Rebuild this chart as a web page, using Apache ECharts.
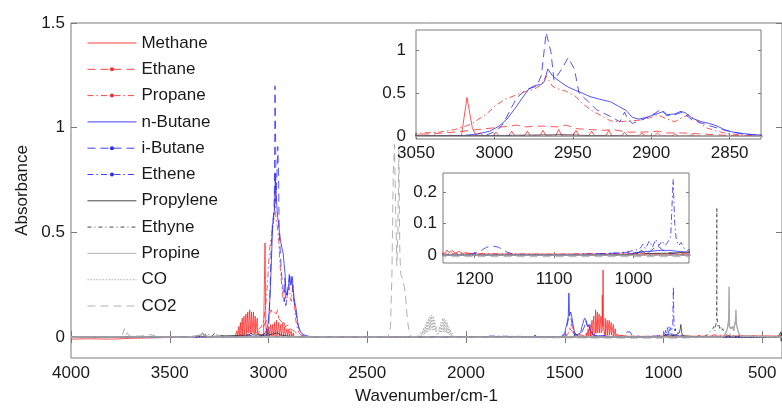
<!DOCTYPE html>
<html><head><meta charset="utf-8">
<script src="https://cdn.jsdelivr.net/npm/echarts@6/dist/echarts.min.js"></script>
<style>html,body{margin:0;padding:0;background:#fff}#c{width:782px;height:410px}</style>
</head><body><div id="c"></div>
<script>
// ---------- data: [wavenumber (cm-1), absorbance] ----------
const seriesNames = ['Methane','Ethane','Propane','n-Butane','i-Butane','Ethene','Propylene','Ethyne','Propine','CO','CO2'];

const methane = [
 [4000,-0.01],[3900,-0.008],[3800,-0.01],[3700,-0.006],[3600,-0.004],[3400,0],[3200,0],[3170,0.002],
 [3162,0],[3160,0.03],[3158,0],[3153,0],[3151,0.05],[3149,0],[3144,0.005],[3142,0.07],[3140,0.005],
 [3135,0.01],[3133,0.09],[3131,0.01],[3126,0.01],[3124,0.1],[3122,0.01],[3116,0.015],[3114,0.11],[3112,0.015],
 [3107,0.02],[3105,0.12],[3103,0.02],[3097,0.02],[3095,0.13],[3093,0.02],[3088,0.02],[3086,0.12],[3084,0.02],
 [3078,0.02],[3076,0.12],[3074,0.02],[3069,0.02],[3067,0.1],[3065,0.02],[3059,0.015],[3057,0.09],[3055,0.01],
 [3050,0.005],[3048,0.02],[3046,0.005],[3040,0.005],[3038,0.015],[3036,0.005],[3030,0.005],[3028,0.015],[3025,0.005],
 [3021,0.01],[3017.5,0.45],[3014,0.09],[3012,0.02],[3011,0.01],[3009,0.04],[3007,0.005],
 [3001,0.005],[2999,0.05],[2997,0.005],[2991,0.005],[2989,0.06],[2987,0.005],[2981,0.005],[2979,0.06],[2977,0.005],
 [2971,0.005],[2969,0.07],[2967,0.005],[2961,0.005],[2959,0.08],[2957,0.005],[2950,0.005],[2948,0.07],[2946,0.005],
 [2940,0.005],[2938,0.06],[2936,0.005],[2929,0.005],[2927,0.07],[2925,0.005],[2919,0.005],[2917,0.05],[2915,0.005],
 [2908,0.005],[2906,0.04],[2904,0.005],[2898,0.005],[2896,0.04],[2894,0.005],[2887,0.003],[2885,0.03],[2883,0.003],
 [2876,0.002],[2874,0.02],[2872,0.002],[2860,0],[1420,0],
 [1393,0],[1391,0.02],[1389,0],[1383,0.005],[1381,0.04],[1379,0.005],[1373,0.005],[1371,0.06],[1369,0.005],
 [1364,0.01],[1362,0.08],[1360,0.01],[1355,0.01],[1353,0.1],[1351,0.01],[1346,0.02],[1344,0.13],[1342,0.02],
 [1337,0.02],[1335,0.12],[1333,0.02],[1328,0.02],[1326,0.11],[1324,0.02],[1319,0.02],[1317,0.1],[1315,0.02],
 [1311,0.03],[1310,0.2],[1308,0.05],[1306,0.32],[1304,0.04],
 [1297,0.01],[1295,0.09],[1293,0.01],[1287,0.01],[1285,0.08],[1283,0.01],[1277,0.01],[1275,0.08],[1273,0.01],
 [1267,0.01],[1265,0.07],[1263,0.01],[1256,0.005],[1254,0.06],[1252,0.005],[1246,0.005],[1244,0.04],[1242,0.005],
 [1237,0.006],[1235,0.016],[1232,0.008],[1228,0.014],[1224,0.006],[1220,0.012],[1215,0.005],[1212,0.008],[1205,0.004],
 [1180,0.003],[1100,0.003],[1000,0.003],[800,0.004],[600,0.005],[400,0.005]
];

const ethane = [
 [4000,0],[3200,0],[3100,0.01],[3060,0.02],[3050,0.025],[3040,0.03],[3025,0.05],[3010,0.08],[3000,0.1],
 [2990,0.12],[2986,0.13],[2980,0.11],[2970,0.12],[2960,0.11],[2954,0.13],[2948,0.09],[2940,0.08],[2930,0.07],
 [2925,0.08],[2915,0.05],[2905,0.05],[2896,0.06],[2890,0.04],[2880,0.04],[2870,0.03],[2860,0.02],[2850,0.01],
 [2830,0.005],[2800,0],[1500,0],[1490,0.01],[1472,0.04],[1465,0.03],[1450,0.01],[1390,0],[1380,0.01],[1370,0],
 [830,0],[821,0.01],[810,0],[400,0]
];

const propane = [
 [4000,0],[3200,0],[3100,0.01],[3060,0.03],[3050,0.035],[3035,0.05],[3025,0.08],[3015,0.14],[3005,0.26],
 [2999,0.36],[2993,0.43],[2986,0.48],[2980,0.52],[2975,0.54],[2970,0.6],[2967,0.7],[2963,0.58],[2958,0.54],
 [2954,0.52],[2948,0.46],[2944,0.38],[2938,0.3],[2932,0.24],[2926,0.18],[2920,0.17],[2913,0.18],[2906,0.19],
 [2900,0.22],[2896,0.25],[2890,0.2],[2885,0.17],[2880,0.22],[2876,0.25],[2870,0.17],[2865,0.1],[2858,0.06],
 [2852,0.035],[2845,0.02],[2835,0.01],[2820,0.005],[2800,0],[1500,0],[1480,0.02],[1470,0.06],[1462,0.05],
 [1450,0.02],[1400,0.005],[1385,0.02],[1375,0.015],[1360,0.005],[1240,0.006],[1200,0.005],[1100,0.003],
 [1050,0.005],[760,0.003],[748,0.01],[740,0.003],[400,0.002]
];

const nButane = [
 [4000,0],[3100,0],[3050,0],[3030,0.005],[3020,0.01],[3010,0.03],[3003,0.06],[2997,0.12],[2992,0.2],
 [2987,0.32],[2982,0.45],[2978,0.55],[2974,0.59],[2970,0.6],[2968,0.64],[2966,0.78],[2963,0.7],[2958,0.63],
 [2953,0.57],[2948,0.53],[2944,0.5],[2939,0.46],[2933,0.43],[2926,0.4],[2921,0.35],[2916,0.3],[2912,0.22],
 [2908,0.2],[2903,0.22],[2900,0.24],[2895,0.27],[2892,0.29],[2890,0.25],[2885,0.26],[2881,0.29],[2878,0.27],
 [2874,0.21],[2868,0.17],[2863,0.15],[2858,0.12],[2853,0.075],[2848,0.05],[2842,0.035],[2835,0.02],
 [2829,0.016],[2815,0.008],[2800,0.005],[2780,0],[1520,0],[1500,0.02],[1490,0.06],[1482,0.1],[1479,0.21],
 [1476,0.1],[1470,0.12],[1465,0.1],[1458,0.06],[1450,0.02],[1440,0.01],[1420,0.02],[1410,0.06],[1400,0.09],
 [1392,0.08],[1385,0.05],[1378,0.06],[1370,0.03],[1355,0.01],[1330,0.005],[1300,0.008],[1280,0],[1010,0],
 [1000,0.005],[990,0.01],[980,0.012],[965,0.015],[955,0.015],[945,0.012],[935,0.01],[920,0.005],[900,0],[400,0]
];

const iButane = [
 [4000,0],[3100,0],[3020,0],[3010,0.005],[3005,0.017],[2999,0.06],[2995,0.13],[2990,0.3],[2986,0.44],
 [2980,0.54],[2973,0.58],[2970,0.71],[2967,1.2],[2964,0.98],[2962,0.65],[2957,0.78],[2953,0.91],[2949,0.78],
 [2946,0.5],[2940,0.4],[2935,0.31],[2926,0.23],[2920,0.17],[2917,0.28],[2915,0.2],[2912,0.15],[2905,0.2],
 [2900,0.24],[2894,0.31],[2890,0.24],[2885,0.25],[2880,0.28],[2874,0.19],[2864,0.13],[2853,0.07],[2843,0.03],
 [2830,0.01],[2810,0],[1520,0],[1500,0.01],[1490,0.05],[1480,0.09],[1472,0.1],[1466,0.08],[1460,0.04],
 [1450,0.01],[1420,0.01],[1400,0.05],[1395,0.08],[1388,0.06],[1380,0.06],[1372,0.04],[1365,0.02],[1350,0.005],
 [1210,0],[1195,0.01],[1185,0.025],[1177,0.029],[1170,0.025],[1160,0.01],[1150,0.002],[1100,0],
 [980,0.01],[970,0.03],[960,0.01],[940,0],[400,0]
];

const ethene = [
 [4000,0],[3200,0],[3130,0.005],[3105,0.01],[3080,0.005],[3000,0.005],[2990,0.01],[2980,0.003],[2900,0],
 [1900,0],[1889,0.005],[1880,0],[1460,0],[1443,0.01],[1430,0],[1060,0],[1040,0.003],[1025,0.006],[1015,0.008],
 [1005,0.012],[998,0.015],[992,0.02],[988,0.035],[985,0.02],[980,0.045],[976,0.025],[972,0.05],[968,0.03],
 [964,0.045],[960,0.03],[957,0.04],[953,0.06],[950,0.24],[948,0.1],[946,0.05],[943,0.03],[940,0.04],[936,0.02],
 [932,0.015],[925,0.02],[915,0.01],[905,0.005],[890,0],[400,0]
];

const propylene = [
 [4000,0],[3500,0],[3300,0.003],[3100,0.01],[3090,0.02],[3080,0.01],[3000,0.01],[2955,0.02],[2940,0.01],
 [2900,0.005],[2800,0],[1660,0],[1650,0.01],[1640,0],[1460,0],[1443,0.015],[1430,0],[1060,0],[1000,0.002],
 [995,0.005],[990,0.015],[985,0.005],[960,0.006],[940,0.008],[930,0.01],[920,0.02],[915,0.04],[912,0.06],
 [909,0.03],[905,0.01],[890,0.005],[800,0],[700,0],[580,0],[420,0],[410,0.005],[406,0.025],[404,-0.02],
 [402,0.02],[400,-0.015]
];

const ethyne = [
 [4000,0],[3400,0],[3330,0.005],[3310,0.02],[3300,0.01],[3287,0.005],[3270,0.02],[3260,0.01],[3200,0],
 [800,0],[780,0.01],[770,0.02],[760,0.03],[750,0.04],[745,0.05],[740,0.03],[735,0.06],[731,0.1],[730,0.62],
 [729,0.1],[725,0.05],[720,0.06],[715,0.04],[710,0.05],[705,0.03],[700,0.04],[690,0.02],[680,0.01],[660,0],[400,0]
];

const propine = [
 [4000,0],[3400,0],[3340,0.01],[3334,0.02],[3325,0.01],[3300,0],[700,0],[690,0.01],[680,0.03],[675,0.05],
 [670,0.08],[668,0.24],[666,0.05],[660,0.04],[650,0.05],[645,0.03],[640,0.06],[635,0.08],[633,0.13],[631,0.06],
 [625,0.04],[620,0.02],[610,0.005],[600,0],[400,0]
];

const co = [
 [4000,0],[2260,0],[2240,0.005],[2230,0.02],[2225,0.005],[2222,0.03],[2218,0.01],[2214,0.045],[2210,0.015],
 [2206,0.06],[2202,0.02],[2198,0.075],[2194,0.025],[2190,0.09],[2186,0.03],[2182,0.1],[2178,0.035],[2174,0.105],
 [2170,0.035],[2166,0.1],[2162,0.03],[2158,0.08],[2154,0.025],[2150,0.05],[2146,0.01],[2143,0.005],[2139,0.02],
 [2135,0.05],[2131,0.02],[2127,0.07],[2123,0.025],[2119,0.09],[2115,0.025],[2111,0.09],[2107,0.025],[2103,0.08],
 [2099,0.02],[2095,0.07],[2091,0.015],[2087,0.05],[2083,0.01],[2079,0.035],[2075,0.005],[2071,0.02],[2065,0],[400,0]
];

const co2 = [
 [4000,0],[3760,0],[3740,0.01],[3730,0.04],[3722,0.01],[3715,0.02],[3705,0.005],[3640,0.005],[3620,0.012],
 [3610,0.008],[3590,0.01],[3560,0],[2400,0],[2390,0.01],[2382,0.05],[2375,0.3],[2368,0.8],[2362,0.92],
 [2356,0.6],[2350,0.34],[2345,0.5],[2340,0.9],[2335,0.4],[2330,0.3],[2322,0.28],[2315,0.25],[2308,0.22],
 [2300,0.12],[2292,0.05],[2285,0.015],[2275,0],[1240,-0.005],[930,-0.005],[700,0],[680,0.01],[668,0.03],[660,0.005],[400,0]
];

// tick labels
const mainXTicks = [4000,3500,3000,2500,2000,1500,1000,500];
const mainYTicks = [0,0.5,1,1.5];
const in1XTicks = [3050,3000,2950,2900,2850];
const in1YTicks = [0,0.5,1];
const in2XTicks = [1200,1100,1000];
const in2YTicks = [0,0.1,0.2];

// ---------- styles ----------
const FONT = "'Liberation Sans', Arial, sans-serif";
const TXT = '#1a1a1a';
const AX = '#7a7a7a';
const styles = {
 'Methane':  {color:'#ff2a2a', type:'solid', dot:false, w:0.8},
 'Ethane':   {color:'#ff2a2a', type:[8,5], dot:true, w:0.8},
 'Propane':  {color:'#ff2a2a', type:[6,3,1.5,3], dot:true, w:0.8},
 'n-Butane': {color:'#2a2aff', type:'solid', dot:false, w:0.8},
 'i-Butane': {color:'#2a2aff', type:[8,5], dot:true, w:0.8},
 'Ethene':   {color:'#2a2aff', type:[6,3,1.5,3], dot:true, w:0.8},
 'Propylene':{color:'#333333', type:'solid', dot:false, w:0.8},
 'Ethyne':   {color:'#333333', type:[4,3,1,3], dot:false, w:0.8},
 'Propine':  {color:'#a8a8a8', type:'solid', dot:false, w:1.4},
 'CO':       {color:'#a8a8a8', type:[1.5,1.5], dot:false, w:0.9},
 'CO2':      {color:'#a8a8a8', type:[8,5], dot:false, w:0.9}
};
const dataByName = {
 'Methane':methane,'Ethane':ethane,'Propane':propane,'n-Butane':nButane,'i-Butane':iButane,'Ethene':ethene,
 'Propylene':propylene,'Ethyne':ethyne,'Propine':propine,'CO':co,'CO2':co2
};

const fmt = v => String(v);
function xAxes(gi, min, max, ticks, tickLen, margin, z, name){
 const base = {type:'value', gridIndex:gi, min:min, max:max, inverse:true, splitLine:{show:false},
   axisLine:{show:false}, z:z};
 return [
  Object.assign({}, base, {position:'bottom',
    name: name||'', nameLocation:'middle', nameGap:30,
    nameTextStyle:{fontSize:17, color:TXT, fontFamily:FONT},
    axisTick:{show:true, inside:true, length:tickLen, customValues:ticks, lineStyle:{color:AX}},
    axisLabel:{show:true, customValues:ticks, formatter:fmt, fontSize:17, color:TXT, fontFamily:FONT, margin:margin}}),
  Object.assign({}, base, {position:'top',
    axisTick:{show:true, inside:true, length:tickLen, customValues:ticks, lineStyle:{color:AX}},
    axisLabel:{show:false}})
 ];
}
function yAxes(gi, min, max, ticks, tickLen, margin, z, name){
 const base = {type:'value', gridIndex:gi, min:min, max:max, splitLine:{show:false}, axisLine:{show:false}, z:z};
 return [
  Object.assign({}, base, {position:'left',
    name: name||'', nameLocation:'middle', nameGap:38,
    nameTextStyle:{fontSize:17, color:TXT, fontFamily:FONT},
    axisTick:{show:true, inside:true, length:tickLen, customValues:ticks, lineStyle:{color:AX}},
    axisLabel:{show:true, customValues:ticks, formatter:fmt, fontSize:17, color:TXT, fontFamily:FONT, margin:margin}}),
  Object.assign({}, base, {position:'right',
    axisTick:{show:true, inside:true, length:tickLen, customValues:ticks, lineStyle:{color:AX}},
    axisLabel:{show:false}})
 ];
}

const xAxis = [].concat(
 xAxes(0, 400, 4000, mainXTicks, 6, 7, 3, 'Wavenumber/cm-1'),
 xAxes(1, 2830, 3050, in1XTicks, 3, 6, 11),
 xAxes(2, 930, 1240, in2XTicks, 3, 8, 11)
);
const yAxis = [].concat(
 yAxes(0, -0.1, 1.5, mainYTicks, 6, 6, 3, 'Absorbance'),
 yAxes(1, -0.03, 1.23, in1YTicks, 3, 10, 11),
 yAxes(2, -0.025, 0.26, in2YTicks, 3, 6, 11)
);

const series = [];
[0,1,2].forEach(gi => {
 seriesNames.forEach(n => {
  const s = styles[n];
  const gray = (n==='Propine'||n==='CO'||n==='CO2');
  series.push({
   name:n, type:'line', data:dataByName[n], xAxisIndex:gi*2, yAxisIndex:gi*2,
   symbol: s.dot ? 'circle' : 'none', showSymbol:false, animation:false, clip:true,
   lineStyle:{color:s.color, width:s.w, type:s.type}, itemStyle:{color:s.color},
   z: (gi===0 ? 2 : 12) + (gray ? 1 : 0), silent:true
  });
 });
});

const option = {
 animation:false,
 backgroundColor:'#fff',
 grid:[
  {left:71, top:23, width:711, height:337, show:true, backgroundColor:'transparent', borderColor:AX, borderWidth:1, z:0},
  {left:416, top:30, width:345, height:109, show:true, backgroundColor:'#fff', borderColor:AX, borderWidth:1, z:10},
  {left:443, top:173, width:246, height:90, show:true, backgroundColor:'#fff', borderColor:AX, borderWidth:1, z:10}
 ],
 legend:{
  orient:'vertical', left:87, top:33, padding:0, itemWidth:49, itemHeight:5, itemGap:6.3, z:20,
  lineStyle:{width:0.9},
  textStyle:{fontSize:17, color:TXT, fontFamily:FONT, lineHeight:20},
  data: seriesNames.map(n => styles[n].dot ? {name:n} : {name:n, itemStyle:{opacity:0}})
 },
 xAxis, yAxis, series
};
const chart = echarts.init(document.getElementById('c'), null, {renderer:'canvas'});
chart.setOption(option);
</script></body></html>
